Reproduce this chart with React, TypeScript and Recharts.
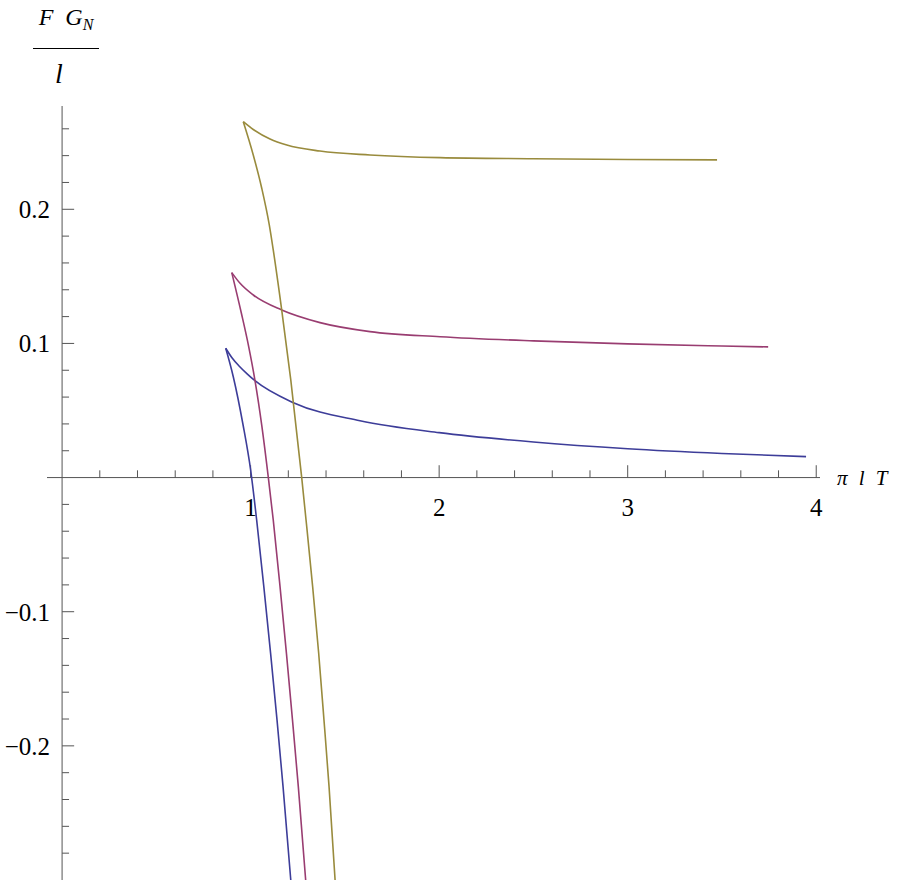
import React from 'react';
import {
  LineChart,
  Line,
  XAxis,
  YAxis,
  ReferenceLine,
  ReferenceDot
} from 'recharts';

// each curve is a swallowtail: an upper branch and a lower branch leaving the cusp
const blueUpper = [
  [0.868, 0.0964], [0.9, 0.0895], [0.94, 0.083], [0.98, 0.0775], [1.023, 0.0722], [1.227, 0.0558],
  [1.58, 0.0424], [2.0, 0.0335], [2.5, 0.0265], [3.0, 0.0215], [3.5, 0.018], [3.946, 0.0156]
];
const blueLower = [
  [0.868, 0.0964], [0.908, 0.0752], [0.96, 0.0392], [1.0, 0.0057], [1.032, -0.0316],
  [1.07, -0.0813], [1.106, -0.131], [1.14, -0.1806], [1.172, -0.2304], [1.213, -0.3]
];
const magentaUpper = [
  [0.9, 0.1528], [0.944, 0.1448], [1.014, 0.1361], [1.165, 0.1249], [1.368, 0.1155],
  [1.633, 0.1088], [2.005, 0.105], [2.5, 0.1019], [3.0, 0.0997], [3.5, 0.0981], [3.745, 0.0974]
];
const magentaLower = [
  [0.9, 0.1528], [0.951, 0.1225], [0.99, 0.0975], [1.023, 0.0725], [1.06, 0.038],
  [1.094, 0.0], [1.12, -0.0316], [1.156, -0.0813], [1.19, -0.131], [1.222, -0.1806],
  [1.253, -0.2304], [1.292, -0.3]
];
const yellowUpper = [
  [0.961, 0.2653], [1.014, 0.2595], [1.103, 0.2524], [1.192, 0.2479], [1.368, 0.2434],
  [1.633, 0.2405], [2.005, 0.2385], [2.5, 0.2377], [3.0, 0.2371], [3.474, 0.2368]
];
const yellowLower = [
  [0.961, 0.2653], [1.014, 0.2405], [1.059, 0.2157], [1.099, 0.1883], [1.12, 0.1697],
  [1.165, 0.1249], [1.213, 0.0728], [1.271, 0.0], [1.294, -0.0316], [1.329, -0.0813],
  [1.361, -0.131], [1.389, -0.1806], [1.416, -0.2304], [1.448, -0.3]
];

const xMajorTicks = [1, 2, 3, 4];
const xMinorTicks = [0.2, 0.4, 0.6, 0.8, 1.2, 1.4, 1.6, 1.8, 2.2, 2.4, 2.6, 2.8, 3.2, 3.4, 3.6, 3.8];
const yMajorTicks = [-0.2, -0.1, 0.1, 0.2];
const yMajorLabels = ['\u22120.2', '\u22120.1', '0.1', '0.2'];
const yMinorTicks = [
  -0.28, -0.26, -0.24, -0.22, -0.18, -0.16, -0.14, -0.12, -0.08, -0.06, -0.04, -0.02,
  0.02, 0.04, 0.06, 0.08, 0.12, 0.14, 0.16, 0.18, 0.22, 0.24, 0.26
];

const BLUE = '#3d3d99';
const MAGENTA = '#993d71';
const YELLOW = '#998b3d';
const AXIS = '#555';
const SERIF = "'Liberation Serif', 'Times New Roman', Tinos, 'Noto Serif', 'DejaVu Serif', serif";

const toPoints = (pairs: number[][]) => pairs.map(([x, y]) => ({ x, y }));

const series = [
  { key: 'bu', data: blueUpper, color: BLUE },
  { key: 'bl', data: blueLower, color: BLUE },
  { key: 'mu', data: magentaUpper, color: MAGENTA },
  { key: 'ml', data: magentaLower, color: MAGENTA },
  { key: 'yu', data: yellowUpper, color: YELLOW },
  { key: 'yl', data: yellowLower, color: YELLOW }
];

const App: React.FC = () => {
  return (
    <div style={{ position: 'absolute', left: 0, top: 0, width: 899, height: 880, background: '#fff', fontFamily: SERIF }}>
      <LineChart
        width={899}
        height={880}
        margin={{ top: 106, right: 79, bottom: 0, left: 47 }}
        style={{ fontFamily: SERIF }}
      >
        <XAxis dataKey="x" type="number" domain={[-0.08, 4.02]} allowDataOverflow hide />
        <YAxis dataKey="y" type="number" domain={[-0.3, 0.277]} allowDataOverflow hide />

        <ReferenceLine y={0} stroke={AXIS} strokeWidth={1} />
        <ReferenceLine x={0} stroke={AXIS} strokeWidth={1} />

        {xMajorTicks.map(t => (
          <ReferenceLine key={'xM' + t} segment={[{ x: t, y: 0 }, { x: t, y: 0.0092 }]} stroke={AXIS} />
        ))}
        {xMinorTicks.map(t => (
          <ReferenceLine key={'xm' + t} segment={[{ x: t, y: 0 }, { x: t, y: 0.0054 }]} stroke={AXIS} />
        ))}
        {yMajorTicks.map(t => (
          <ReferenceLine key={'yM' + t} segment={[{ x: 0, y: t }, { x: 0.064, y: t }]} stroke={AXIS} />
        ))}
        {yMinorTicks.map(t => (
          <ReferenceLine key={'ym' + t} segment={[{ x: 0, y: t }, { x: 0.037, y: t }]} stroke={AXIS} />
        ))}

        {xMajorTicks.map(t => (
          <ReferenceDot
            key={'xl' + t}
            x={t}
            y={0}
            r={1}
            fill="none"
            stroke="none"
            label={{ value: String(t), position: 'bottom', offset: 20, fontSize: 25, fontFamily: SERIF, fill: '#000' }}
          />
        ))}
        {yMajorTicks.map((t, i) => (
          <ReferenceDot
            key={'yl' + t}
            x={0}
            y={t}
            r={1}
            fill="none"
            stroke="none"
            label={{ value: yMajorLabels[i], position: 'left', offset: 11, fontSize: 25, fontFamily: SERIF, fill: '#000' }}
          />
        ))}

        {series.map(s => (
          <Line
            key={s.key}
            data={toPoints(s.data)}
            dataKey="y"
            type="monotone"
            stroke={s.color}
            strokeWidth={1.6}
            dot={false}
            isAnimationActive={false}
          />
        ))}
      </LineChart>

      {/* y axis label: F G_N over l */}
      <div style={{ position: 'absolute', left: 26, top: 3, width: 80, textAlign: 'center', fontFamily: SERIF, fontStyle: 'italic', fontSize: 24, lineHeight: '28px', whiteSpace: 'nowrap' }}>
        F&nbsp;&nbsp;G<span style={{ fontSize: 16, position: 'relative', top: 5 }}>N</span>
      </div>
      <div style={{ position: 'absolute', left: 33, top: 48, width: 66, borderTop: '1.5px solid #000' }} />
      <div style={{ position: 'absolute', left: 29, top: 58, width: 60, textAlign: 'center', fontFamily: SERIF, fontStyle: 'italic', fontSize: 28, lineHeight: '32px' }}>
        l
      </div>

      {/* x axis label */}
      <div style={{ position: 'absolute', left: 837, top: 465, fontFamily: SERIF, fontStyle: 'italic', fontSize: 21, lineHeight: '26px', whiteSpace: 'nowrap', wordSpacing: 6 }}>
        π l T
      </div>
    </div>
  );
};

export default App;
